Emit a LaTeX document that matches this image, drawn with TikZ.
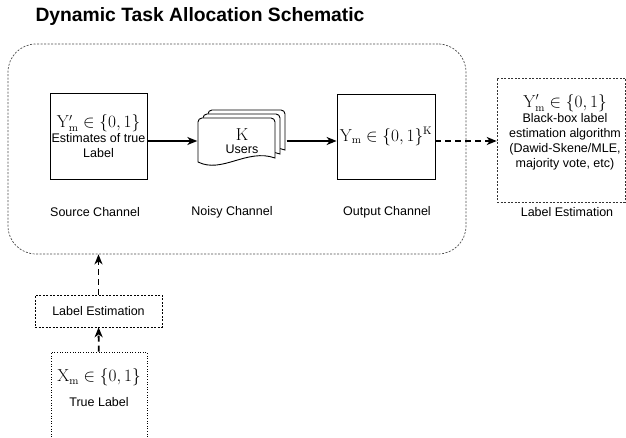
\documentclass[tikz,border=0pt]{standalone}
\usepackage[no-math]{fontspec}
\setmainfont{Liberation Sans}
\usetikzlibrary{arrows.meta}

\tikzset{
  box/.style={draw, line width=0.8pt, inner sep=1pt, minimum width=97pt, minimum height=86pt},
  estbox/.style={draw, line width=0.6pt, dash pattern=on 2pt off 1.5pt},
  page/.style={draw, fill=white, line width=0.9pt},
  flow/.style={-{Stealth[length=10pt,width=8pt,inset=3pt]}, line width=1.3pt},
  flowdash/.style={flow, line width=1.8pt, dash pattern=on 6pt off 4pt}
}
\newcommand{\mathsz}{\fontsize{16}{17}\selectfont}

\begin{document}
\begin{tikzpicture}[x=1pt, y=-1pt, font=\fontsize{12.5}{15}\selectfont]
\useasboundingbox (0,0) rectangle (626,438);

\node[font=\bfseries\fontsize{19.3}{21}\selectfont](T) at (200,17) {Dynamic Task Allocation Schematic};

\node[draw=black!70, line width=0.7pt, dash pattern=on 2pt off 1.5pt, rounded corners=28pt,
      minimum width=458pt, minimum height=210pt](G) at (237,149) {};

\node[box, align=center](A) at (98.5,136) {\mathsz $\mathrm{Y}'_{\mathrm{m}}\in\{0,1\}$ \\
                                          Estimates of true \\
                                          Label};

\foreach \d in {10,5,0}
  \draw[page, rounded corners=4pt, shift={(242+\d,142-0.8*\d)}]
       (-44,20) -- (-44,-24) -- (33,-24) [sharp corners] -- (33,16)
       .. controls (5,6) and (-20,32) .. (-44,20) -- cycle;
\node[minimum width=89pt, minimum height=50pt, align=center, inner sep=0pt](B) at (242,141)
     {\fontsize{16}{12}\selectfont $\mathrm{K}$ \\[-1.5pt] \fontsize{12.5}{13}\selectfont Users};

\node[box, minimum width=98pt, minimum height=85pt](C) at (386,136.5)
     {\mathsz $\mathrm{Y}_{\mathrm{m}}\in\{0,1\}^{\mathrm{K}}$};

\node[estbox, draw=black!80, minimum width=128pt, minimum height=124pt](D) at (561,140) {};
\node[align=center](D1) at (565,132) {\mathsz $\mathrm{Y}'_{\mathrm{m}}\in\{0,1\}$ \\
                                     Black-box label \\
                                     estimation algorithm \\
                                     (Dawid-Skene/MLE, \\
                                     majority vote, etc)};

\node(A2) at (95,212) {Source Channel};
\node(B2) at (232,212) {Noisy Channel};
\node(C2) at (387,212) {Output Channel};
\node(D2) at (567,212) {Label Estimation};

\node[estbox, minimum width=127pt, minimum height=32pt](E) at (98.5,311) {Label Estimation};

\node[draw, line width=0.6pt, dotted, minimum width=96pt, minimum height=98pt](F) at (99,401) {};
\node[align=center](F1) at (99,388) {\mathsz $\mathrm{X}_{\mathrm{m}}\in\{0,1\}$ \\[10pt]
                                    True Label};

\draw[flow] (A.east |- B) -- (B);
\draw[flow] (B) -- (C.west |- B);
\draw[flowdash] (C.east |- B) -- (D.west |- B);
\draw[flowdash] (E) -- (E |- G.south);
\draw[flowdash] (F) -- (E);

\end{tikzpicture}
\end{document}
